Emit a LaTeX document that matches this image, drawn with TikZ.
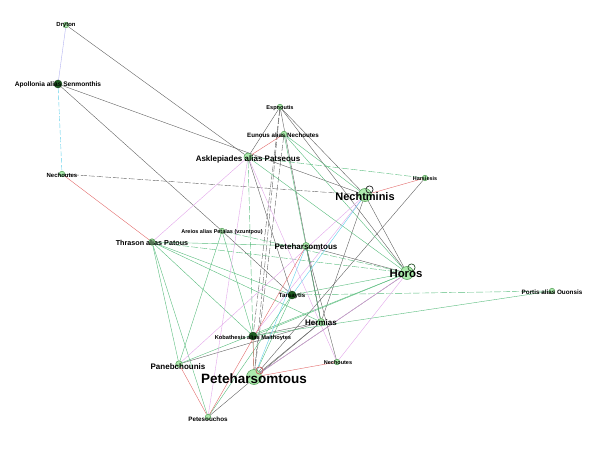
\documentclass[tikz,border=0pt]{standalone}
\usepackage{fontspec}
\setmainfont{Liberation Sans}
\usetikzlibrary{backgrounds,calc}
\definecolor{tiegrey}{HTML}{616161}
\definecolor{kingreen}{HTML}{58BC7C}
\definecolor{rosepink}{HTML}{E2A6EA}
\definecolor{bloodred}{HTML}{E26A6A}
\definecolor{aqua}{HTML}{5FD0EA}
\definecolor{lilac}{HTML}{B2B2F0}
\definecolor{leaf}{HTML}{ADEBAD}
\definecolor{rim}{HTML}{4E9A52}
\definecolor{deep}{HTML}{1E5E22}
\tikzset{x=1pt,y=-1pt,line width=.5pt,
  person/.style={circle,draw=rim,fill=leaf,inner sep=0pt,minimum size=#1,line width=.5pt},
  hub/.style={circle,draw=deep!60!black,fill=deep,inner sep=0pt,minimum size=8pt,line width=.4pt},
  lbl/.style={font=\bfseries\fontsize{#1}{#1}\selectfont,inner sep=0pt},
  greyline/.style={draw=tiegrey},
  greydash/.style={draw=tiegrey,dash pattern=on 6pt off 2pt},
  greenline/.style={draw=kingreen},
  greendash/.style={draw=kingreen,dash pattern=on 7pt off 2pt},
  pinkline/.style={draw=rosepink},
  redline/.style={draw=bloodred},
  cyanline/.style={draw=aqua},
  cyandash/.style={draw=aqua,dash pattern=on 5pt off 2pt},
  selfloop/.style={line width=.7pt}}
\begin{document}
\begin{tikzpicture}
\useasboundingbox (0,0) rectangle (597,449);
\node[person=5.5pt](dry)at(66,25){};
\node[hub](apol)at(58,84){};
\node[person=5.5pt](nechL)at(62,174){};
\node[person=5.5pt](esp)at(280,107){};
\node[person=5.5pt](eun)at(284,134){};
\node[person=8pt](ask)at(248,157){};
\node[person=5.5pt](hars)at(425,178){};
\node[person=13pt](necht)at(365,195){};
\node[person=5.5pt](are)at(222,231){};
\node[person=6.5pt](thr)at(152,242){};
\node[person=7pt](petM)at(306,246){};
\node[person=13pt](hor)at(407,273){};
\node[person=5.5pt](port)at(552,291){};
\node[hub](tars)at(292,295){};
\node[person=7pt](herm)at(321,322){};
\node[hub](kob)at(253,336){};
\node[person=6.5pt](pan)at(179,364){};
\node[person=5.5pt](nechB)at(337,362){};
\node[person=15pt](petB)at(254,377){};
\node[person=5.5pt](pets)at(208,417){};
\begin{scope}[on background layer]
\foreach \a/\b in {dry/ask,apol/necht,apol/are,are/tars,esp/ask,esp/necht,esp/hor,esp/herm,ask/tars,
  necht/hor,necht/herm,hars/petB,hor/petM,kob/herm,hor/petB,herm/petB,petM/nechB,petM/herm,pan/herm,pets/herm}
  \draw[greyline](\a)--(\b);
\foreach \a/\b in {nechL/necht,esp/petB,esp/kob,eun/petB}\draw[greydash](\a)--(\b);
\foreach \a/\b in {thr/petM,thr/tars,thr/pan,thr/pets,thr/kob,thr/herm,ask/hor,eun/hor,eun/herm,eun/necht,
  are/pan,are/kob,kob/hor,pan/hor,tars/hor,port/kob,petB/tars,pets/tars}
  \draw[greenline](\a)--(\b);
\foreach \a/\b in {ask/hars,ask/petB,tars/port,thr/hor,are/hor}\draw[greendash](\a)--(\b);
\foreach \a/\b in {ask/thr,ask/pets,ask/nechB,necht/pan,necht/kob,hor/nechB,hor/petB}\draw[pinkline](\a)--(\b);
\foreach \a/\b in {nechL/thr,eun/ask,hars/necht,pan/pets,petM/pets,kob/petB,nechB/petB}\draw[redline](\a)--(\b);
\foreach \a/\b in {necht/tars,petM/petB}\draw[cyanline](\a)--(\b);
\draw[cyandash](apol)--(nechL);
\draw[draw=lilac](dry)--(apol);
\end{scope}
\draw[selfloop,draw=black!85](369.5,189.5)circle(3.6pt);
\draw[selfloop,draw=rim!55!black](411.5,267.5)circle(3.6pt);
\draw[selfloop,draw=bloodred!85!black](259.5,370.5)circle(3.6pt);
\node[lbl=13.5](petBT)at(254,379){Peteharsomtous};
\node[lbl=11.4](horT)at(406,274){Horos};
\node[lbl=11](nechtT)at(365,197){Nechtminis};
\node[lbl=8](askT)at(248,159){Asklepiades alias Patseous};
\node[lbl=7.2](thrT)at(152,243){Thrason alias Patous};
\node[lbl=8](petMT)at(306,247){Peteharsomtous};
\node[lbl=8](hermT)at(321,323){Hermias};
\node[lbl=8](panT)at(178,367){Panebchounis};
\node[lbl=5.9](dryT)at(66,25){Dryton};
\node[lbl=6.6](apolT)at(58,85){Apollonia alias Senmonthis};
\node[lbl=6](nechLT)at(62,175){Nechoutes};
\node[lbl=5.6](espT)at(280,108){Espnoutis};
\node[lbl=6.2](eunT)at(283,135){Eunous alias Nechoutes};
\node[lbl=5.4](harsT)at(425,179){Harsiesis};
\node[lbl=5.5](areT)at(222,232){Areios alias Petalas (vzuntpou)};
\node[lbl=6.3](portT)at(552,292){Portis alias Ouonsis};
\node[lbl=6.1](tarsT)at(292,296){Tarsaytis};
\node[lbl=5.7](kobT)at(253,338){Kobathesis alias Maithoytes};
\node[lbl=5.5](nechBT)at(338,363){Nechoutes};
\node[lbl=6.3](petsT)at(208,419){Petesouchos};
\end{tikzpicture}
\end{document}
